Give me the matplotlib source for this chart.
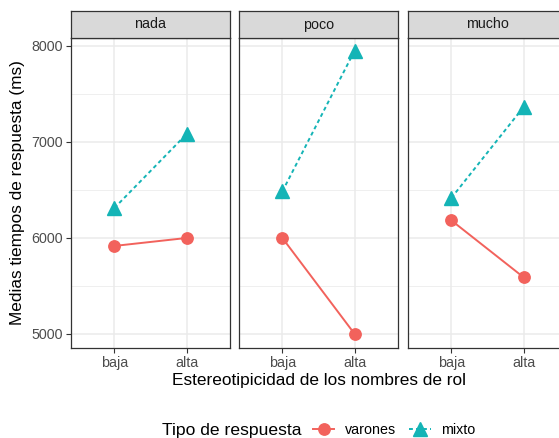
import matplotlib
matplotlib.use("Agg")
import matplotlib.pyplot as plt
from matplotlib.lines import Line2D

plt.rcParams['font.family'] = ['Liberation Sans', 'DejaVu Sans']

# Data
facets = ["nada", "poco", "mucho"]
levels = ["baja", "alta"]
varones = {"nada": [5917, 6000], "poco": [6000, 5000], "mucho": [6183, 5590]}
mixto = {"nada": [6312, 7083], "poco": [6485, 7951], "mucho": [6417, 7365]}
y_ticks = [5000, 6000, 7000, 8000]
y_minor = [5500, 6500, 7500]

RED = "#F2625C"
TEAL = "#14B4B6"
W, H = 559, 438
fig = plt.figure(figsize=(W / 100, H / 100), dpi=100)

panel_left = [71, 239, 408]
panel_w = 159
top_px, bot_px = 38, 347.7
strip_top = 11

def fx(px):
    return px / W

def fy(py):
    return 1 - py / H

for i, f in enumerate(facets):
    ax = fig.add_axes([fx(panel_left[i]), fy(bot_px), fx(panel_w), (bot_px - top_px) / H])
    xs = list(range(1, len(levels) + 1))
    ax.set_xlim(0.4, 2.6)
    ax.set_ylim(4857, 8083)
    ax.set_facecolor("white")
    for y in y_minor:
        ax.axhline(y, color="#EBEBEB", lw=0.55, zorder=0)
    for y in y_ticks:
        ax.axhline(y, color="#EBEBEB", lw=1.1, zorder=0)
    for x in xs:
        ax.axvline(x, color="#EBEBEB", lw=1.1, zorder=0)
    ax.plot(xs, varones[f], color=RED, lw=1.4, marker="o", ms=8.2, zorder=3)
    ax.plot(xs, mixto[f], color=TEAL, lw=1.4, ls=(0, (2, 1.6)), marker="^", ms=9.5, zorder=3)
    ax.set_xticks(xs)
    ax.set_xticklabels(levels)
    ax.set_yticks(y_ticks)
    if i == 0:
        ax.set_yticklabels([str(v) for v in y_ticks])
    else:
        ax.tick_params(axis="y", left=False, labelleft=False)
    ax.tick_params(axis="both", colors="#333333", labelcolor="#4D4D4D", labelsize=10.3,
                   length=3.5, width=0.8, pad=2.5)
    for s in ax.spines.values():
        s.set_color("#333333")
        s.set_linewidth(0.9)
    # facet strip
    sax = fig.add_axes([fx(panel_left[i]), fy(top_px), fx(panel_w), (top_px - strip_top) / H])
    sax.set_xticks([])
    sax.set_yticks([])
    sax.set_facecolor("#D9D9D9")
    for s in sax.spines.values():
        s.set_color("#333333")
        s.set_linewidth(0.9)
    sax.text(0.5, 0.5, f, ha="center", va="center", fontsize=10.3, color="#1A1A1A",
             transform=sax.transAxes)

fig.text(fx(319), fy(381), "Estereotipicidad de los nombres de rol", ha="center", va="center",
         fontsize=12.4, color="black")
fig.text(fx(18), fy(193), "Medias tiempos de respuesta (ms)", ha="center", va="center",
         rotation=90, fontsize=12.4, color="black")

# Legend
fig.text(fx(162), fy(430), "Tipo de respuesta", ha="left", va="center", fontsize=12.6)
handles = [
    Line2D([], [], color=RED, lw=1.4, marker="o", ms=8.2),
    Line2D([], [], color=TEAL, lw=1.4, ls=(0, (2, 1.6)), marker="^", ms=9.5),
]
fig.legend(handles, ["varones", "mixto"], loc="center left", bbox_to_anchor=(fx(313), fy(430)),
           ncol=2, frameon=False, fontsize=10.3, handlelength=1.5, handletextpad=0.75,
           columnspacing=0.9, borderaxespad=0, borderpad=0)

fig.savefig("out.png", dpi=100, facecolor="white")
